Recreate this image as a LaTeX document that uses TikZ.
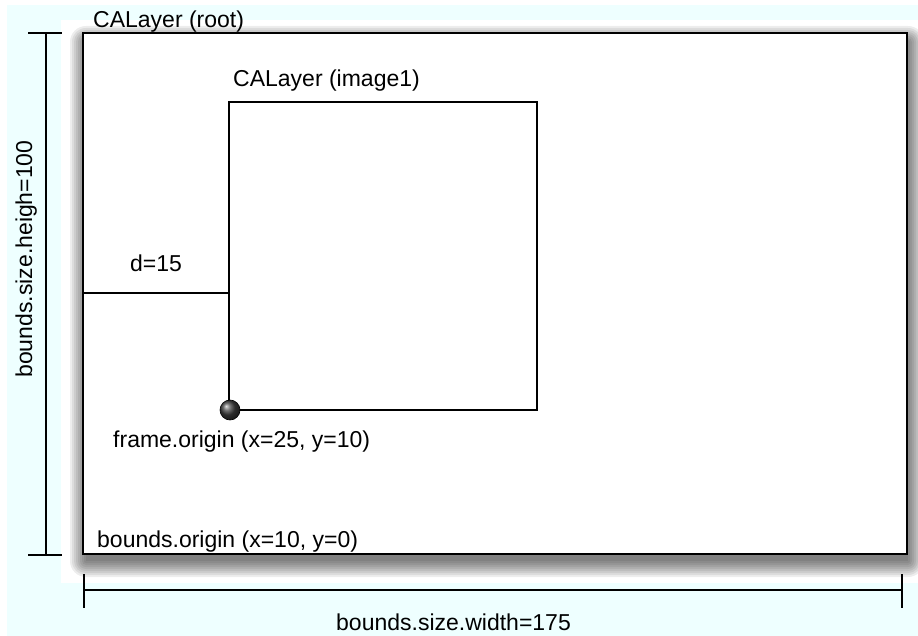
\documentclass[tikz,border=0pt]{standalone}
\usepackage{fontspec}
\setmainfont{Liberation Sans}
\definecolor{bgcyan}{HTML}{EEFFFF}
\begin{document}
\begin{tikzpicture}[x=1pt,y=-1pt,
  lbl/.style={font=\fontsize{23}{27}\selectfont, inner sep=0pt, anchor=base west},
  dimline/.style={line width=1.5pt, line cap=butt},
  boxline/.style={line width=2pt},
]
\useasboundingbox (0,0) rectangle (918,636);
\fill[white] (0,0) rectangle (918,636);
\fill[bgcyan] (7,5) rectangle (918,636);
\fill[white] (61,20) rectangle (918,583);
% shadow of the root layer
\foreach \r in {0,2,...,16}
  \fill[black,opacity=0.07,rounded corners=\r pt] (83-\r+3,33-\r+9) rectangle (907+\r+1,554+\r+7);
% root layer
\coordinate (rootNW) at (83,33);
\coordinate (rootSE) at (907,554);
\fill[white] (rootNW) rectangle (rootSE);
\draw[boxline] (rootNW) rectangle (rootSE);
% image layer
\coordinate (imgNW) at (229,102);
\coordinate (imgSE) at (537,410);
\draw[line width=1.6pt] (imgNW) rectangle (imgSE);
% d = 15 measure
\coordinate (dL) at (83,293);
\coordinate (dR) at (229,293);
\draw[line width=1.5pt] (dL) -- (dR);
\draw[line width=2.2pt] (83,277) -- (83,310);
\draw[line width=2.2pt] (229,277) -- (229,310);
% frame origin dot
\coordinate (origin) at (230,410);
\shade[ball color=black!75] (origin) circle (10);
\draw[line width=0.6pt] (origin) circle (10);
% height dimension
\coordinate (hT) at (46,33);
\coordinate (hB) at (46,555);
\draw[dimline] (hT) -- (hB);
\draw[dimline] (28,33) -- (62,33);
\draw[dimline] (28,555) -- (62,555);
% width dimension
\coordinate (wL) at (84,590);
\coordinate (wR) at (902,590);
\draw[dimline] (wL) -- (wR);
\draw[dimline] (84,574) -- (84,608);
\draw[dimline] (902,574) -- (902,608);
% labels
\node[lbl] (lroot) at (93,28) {CALayer (root)};
\node[lbl] (limg) at (233,87) {CALayer (image1)};
\node[lbl] (ld) at (130,272) {d=15};
\node[lbl] (lframe) at (113,447) {frame.origin (x=25, y=10)};
\node[lbl] (lbounds) at (97,547) {bounds.origin (x=10, y=0)};
\node[lbl] (lwidth) at (336,630) {bounds.size.width=175};
\node[lbl, anchor=base, rotate=90] (lheight) at (32,259) {bounds.size.heigh=100};
\end{tikzpicture}
\end{document}
